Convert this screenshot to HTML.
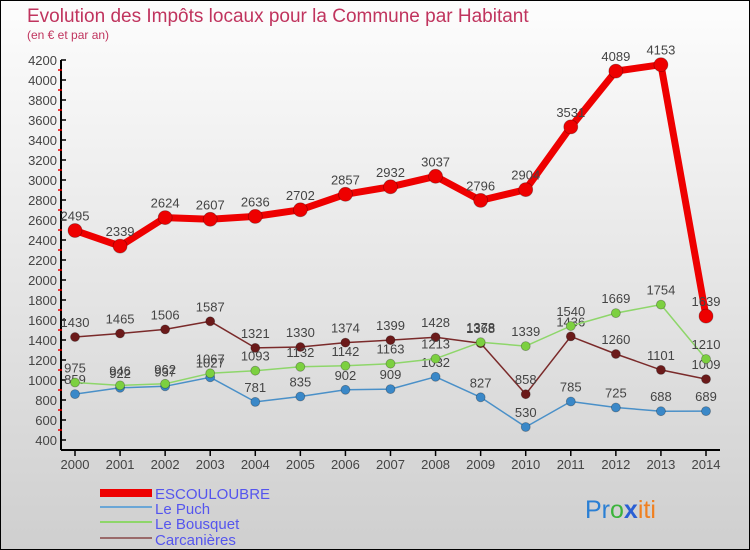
<!DOCTYPE html>
<html><head><meta charset="utf-8"><style>
body{margin:0}
#c{width:750px;height:550px;position:relative;background:linear-gradient(#fdfdfd,#cfcfcf);box-sizing:border-box;border:1px solid #000;overflow:hidden;font-family:"Liberation Sans",sans-serif}
</style></head><body>
<div id="c">
<svg id="s" width="750" height="550" style="position:absolute;left:-1px;top:-1px">
<text x="27" y="22" font-size="19" fill="#c0345e">Evolution des Impôts locaux pour la Commune par Habitant</text>
<text x="27" y="39" font-size="12" fill="#c0345e">(en € et par an)</text>
<g id="axes"></g><g id="series"></g>
<g font-size="15" fill="#5555ee">
<rect x="100" y="489" width="52" height="8" fill="#e00"/>
<text x="155" y="499">ESCOULOUBRE</text>
<rect x="100" y="506" width="52" height="2" fill="#6aa6d6"/>
<text x="155" y="514">Le Puch</text>
<rect x="100" y="521" width="52" height="2" fill="#8ed66a"/>
<text x="155" y="529">Le Bousquet</text>
<rect x="100" y="537" width="52" height="2" fill="#9a6a6a"/>
<text x="155" y="545">Carcanières</text>
</g>
<text x="585" y="518" font-size="25"><tspan fill="#2a7fd4">Pr</tspan><tspan fill="#3cb43c">o</tspan><tspan fill="#2a5fd4" font-weight="bold">x</tspan><tspan fill="#f08020">iti</tspan></text>
</svg>
</div>
<script>
const years=[2000,2001,2002,2003,2004,2005,2006,2007,2008,2009,2010,2011,2012,2013,2014];
const escouloubre=[2495,2339,2624,2607,2636,2702,2857,2932,3037,2796,2904,3531,4089,4153,1639];
const lePuch=[859,922,937,1027,781,835,902,909,1032,827,530,785,725,688,689];
const leBousquet=[975,946,962,1067,1093,1132,1142,1163,1213,1378,1339,1540,1669,1754,1210];
const carcanieres=[1430,1465,1506,1587,1321,1330,1374,1399,1428,1368,858,1436,1260,1101,1009];
const yTicks=[400,600,800,1000,1200,1400,1600,1800,2000,2200,2400,2600,2800,3000,3200,3400,3600,3800,4000,4200];
const NS="http://www.w3.org/2000/svg";
const X=i=>75+i*(706-75)/(years.length-1);
const Y=v=>440-(v-400)*0.1;
function mk(t,a,p){const e=document.createElementNS(NS,t);for(const k in a)e.setAttribute(k,a[k]);p.appendChild(e);return e;}
const ax=document.getElementById('axes');
let l=mk('line',{x1:61,y1:Y(4200),x2:61,y2:450,stroke:'#000','stroke-width':2},ax);


l=mk('line',{x1:61,y1:450,x2:720,y2:450,stroke:'#000','stroke-width':2},ax);


yTicks.forEach(v=>{
 mk('line',{x1:61,y1:Y(v),x2:66,y2:Y(v),stroke:'#000','stroke-width':1.5},ax);
 if(v<4200)mk('line',{x1:58,y1:Y(v+100),x2:62,y2:Y(v+100),stroke:'#e00','stroke-width':1.5},ax);
 const t=mk('text',{x:57,y:Y(v)+5,'text-anchor':'end','font-size':13,fill:'#444'},ax);
 t.textContent=v;
 
 
});
years.forEach((yr,i)=>{
 mk('line',{x1:X(i),y1:450,x2:X(i),y2:456,stroke:'#000','stroke-width':1.5},ax);
 const t=mk('text',{x:X(i),y:469,'text-anchor':'middle','font-size':13,fill:'#444'},ax);
 t.textContent=yr;
 
 
});
const sg=document.getElementById('series');
function draw(name,data,color,lw,r,dot){
 const g=mk('g',{},sg);
 
 
 const p=mk('polyline',{points:data.map((v,i)=>X(i)+','+Y(v)).join(' '),fill:'none',stroke:color,'stroke-width':lw,'stroke-linejoin':'round'},g);
 
 
 data.forEach((v,i)=>{
  const c=mk('circle',{cx:X(i),cy:Y(v),r:r,fill:dot,stroke:'rgba(0,0,0,0.3)','stroke-width':0.8},g);
  
  
  const t=mk('text',{x:X(i),y:Y(v)-10,'text-anchor':'middle','font-size':13,fill:'#444'},g);
  t.textContent=v;
  
  
 });
}
draw('carcanieres',carcanieres,'#7a2a2a',1.5,4.5,'#6b1a1a');
draw('le-puch',lePuch,'#4a90c8',1.5,4.5,'#3a88c8');
draw('le-bousquet',leBousquet,'#8ed66a',1.5,4.5,'#7cd040');
draw('escouloubre',escouloubre,'#ee0000',7,7,'#ee0000');
</script>
</body></html>
